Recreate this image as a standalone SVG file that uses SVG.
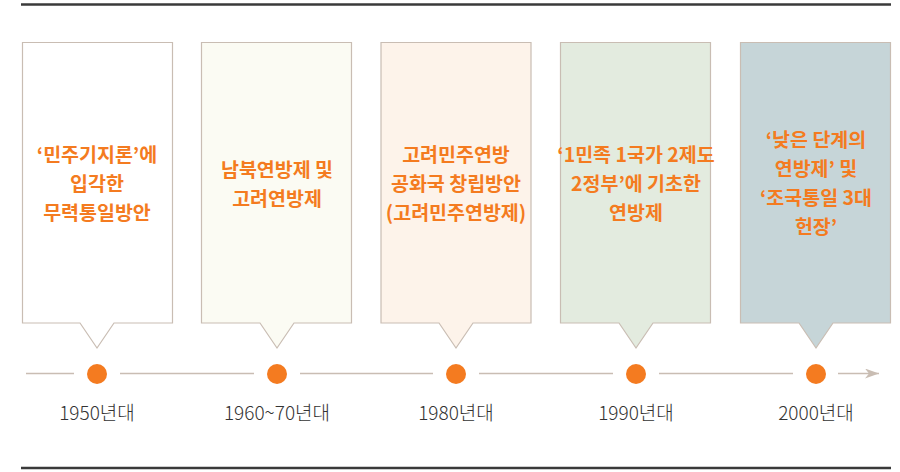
<svg xmlns="http://www.w3.org/2000/svg" width="900" height="472" viewBox="0 0 900 472">
<defs>
<style>
.rule{stroke:#3a3a3a;stroke-width:2.5;fill:none}
.box{stroke:#c9bdb3;stroke-width:1.2}
.t{font-family:"Noto Sans CJK KR","Noto Sans",sans-serif;font-weight:bold;font-size:19.5px;fill:#f47b20;text-anchor:middle}
.lbl{font-family:"Noto Sans CJK KR","Noto Sans",sans-serif;font-weight:300;font-size:19px;fill:#333;text-anchor:middle}
.tl{stroke:#c9bdb3;stroke-width:1.3;fill:none}
.dot{fill:#f47b20}
</style>
<marker id="arr" viewBox="0 0 14 10" refX="14" refY="5" markerWidth="14" markerHeight="10" markerUnits="userSpaceOnUse" orient="auto">
<path d="M0,0 L14,5 L0,10 L4,5 Z" fill="#c9bdb3"/>
</marker>
</defs>
<rect width="900" height="472" fill="#fff"/>
<line class="rule" x1="21" y1="4.5" x2="891" y2="4.5"/>
<line class="rule" x1="21" y1="468" x2="891" y2="468"/>
<g id="connectors">
<line class="tl" x1="26" y1="373.5" x2="74" y2="373.5"/>
<line class="tl" x1="120" y1="373.5" x2="254" y2="373.5"/>
<line class="tl" x1="300" y1="373.5" x2="433" y2="373.5"/>
<line class="tl" x1="479" y1="373.5" x2="613" y2="373.5"/>
<line class="tl" x1="659" y1="373.5" x2="793" y2="373.5"/>
<line class="tl" x1="838" y1="373.5" x2="879" y2="373.5" marker-end="url(#arr)"/>
</g>
<g id="node1">
<path class="box" fill="#ffffff" d="M22.5,42.5 H172.5 V323 H114 L97,348 L80,323 H22.5 Z"/>
<text class="t" x="97" y="162">‘민주기지론’에</text>
<text class="t" x="97" y="191">입각한</text>
<text class="t" x="97" y="220">무력통일방안</text>
<circle class="dot" cx="97" cy="374" r="10"/>
<text class="lbl" x="97" y="420">1950년대</text>
</g>
<g id="node2">
<path class="box" fill="#fbfbf3" d="M201.5,42.5 H351.5 V323 H294 L277,348 L260,323 H201.5 Z"/>
<text class="t" x="277" y="177">남북연방제 및</text>
<text class="t" x="277" y="206">고려연방제</text>
<circle class="dot" cx="277" cy="374" r="10"/>
<text class="lbl" x="277" y="420">1960~70년대</text>
</g>
<g id="node3">
<path class="box" fill="#fdf3ea" d="M381,42.5 H531 V323 H473 L456,348 L439,323 H381 Z"/>
<text class="t" x="456" y="162">고려민주연방</text>
<text class="t" x="456" y="191">공화국 창립방안</text>
<text class="t" x="456" y="220">(고려민주연방제)</text>
<circle class="dot" cx="456" cy="374" r="10"/>
<text class="lbl" x="456" y="420">1980년대</text>
</g>
<g id="node4">
<path class="box" fill="#e3ebdf" d="M560.5,42.5 H710.5 V323 H653 L636,348 L619,323 H560.5 Z"/>
<text class="t" x="636" y="162">‘1민족 1국가 2제도</text>
<text class="t" x="636" y="191">2정부’에 기초한</text>
<text class="t" x="636" y="220">연방제</text>
<circle class="dot" cx="636" cy="374" r="10"/>
<text class="lbl" x="636" y="420">1990년대</text>
</g>
<g id="node5">
<path class="box" fill="#c6d5d8" d="M740.5,42.5 H890.5 V323 H833 L816,348 L799,323 H740.5 Z"/>
<text class="t" x="816" y="147">‘낮은 단계의</text>
<text class="t" x="816" y="176">연방제’ 및</text>
<text class="t" x="816" y="205">‘조국통일 3대</text>
<text class="t" x="816" y="234">헌장’</text>
<circle class="dot" cx="816" cy="374" r="10"/>
<text class="lbl" x="816" y="420">2000년대</text>
</g>
</svg>
